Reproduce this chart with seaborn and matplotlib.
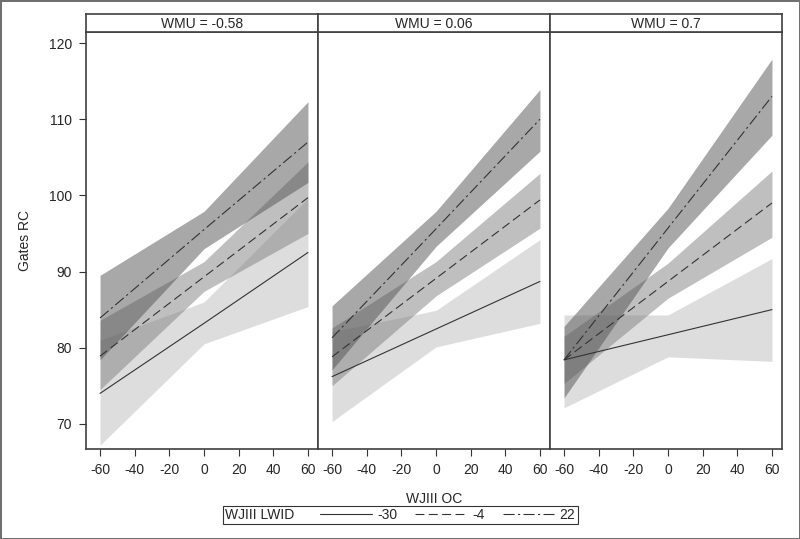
import pandas as pd
import matplotlib
matplotlib.use('Agg')
import matplotlib.pyplot as plt
import seaborn as sns
from matplotlib.lines import Line2D
from matplotlib.offsetbox import HPacker

oc = [-60, 0, 60]
wmu_labels = ['WMU = -0.58', 'WMU = 0.06', 'WMU = 0.7']
lwid_levels = ['-30', '-4', '22']

# predicted Gates RC per panel, one list per LWID level (-30, -4, 22)
fit_p1 = [[74.0, 83.2, 92.5], [78.9, 89.3, 99.7], [83.9, 95.5, 107.0]]
fit_p2 = [[76.2, 82.45, 88.7], [78.8, 89.1, 99.4], [81.3, 95.6, 110.0]]
fit_p3 = [[78.4, 81.7, 85.0], [78.4, 88.7, 99.0], [78.4, 95.7, 113.0]]

# confidence bands (lower / upper)
lo_p1 = [[67.2, 80.5, 85.4], [74.5, 87.4, 95.0], [78.4, 93.0, 101.7]]
hi_p1 = [[81.0, 86.0, 99.6], [83.6, 91.3, 104.4], [89.5, 97.9, 112.3]]
lo_p2 = [[70.3, 80.1, 83.2], [75.0, 86.8, 95.7], [77.1, 93.3, 105.8]]
hi_p2 = [[82.1, 84.9, 94.2], [82.6, 91.3, 102.9], [85.5, 97.9, 113.9]]
lo_p3 = [[72.1, 78.8, 78.2], [75.3, 86.5, 94.5], [73.4, 93.1, 107.9]]
hi_p3 = [[84.3, 84.3, 91.7], [81.5, 91.1, 103.2], [82.8, 98.3, 117.9]]

fits = [fit_p1, fit_p2, fit_p3]
los = [lo_p1, lo_p2, lo_p3]
his = [hi_p1, hi_p2, hi_p3]

# long table for seaborn
rows = []
for i, w in enumerate(wmu_labels):
    for j, lev in enumerate(lwid_levels):
        for k, x in enumerate(oc):
            rows.append({'WMU': w, 'WJIII LWID': lev, 'WJIII OC': x, 'Gates RC': fits[i][j][k]})
df = pd.DataFrame(rows)

sns.set_style('white')
plt.rcParams['font.family'] = ['Liberation Sans', 'DejaVu Sans']
plt.rcParams['axes.unicode_minus'] = False

line_color = '#333333'
frame_color = '#404040'
band_colors = ['#bdbdbd', '#808080', '#525252']
dashes = {'-30': '', '-4': (8, 4), '22': (10, 3, 2, 3)}

fig, axes = plt.subplots(1, 3, figsize=(8, 5.39), dpi=100, sharey=True,
                         linewidth=2, edgecolor='#707070')
fig.subplots_adjust(left=0.1075, right=0.9775, bottom=0.167, top=0.9406, wspace=0)

for i, ax in enumerate(axes):
    for j in range(3):
        ax.fill_between(oc, los[i][j], his[i][j], color=band_colors[j], alpha=0.5, lw=0)
    sub = df[df['WMU'] == wmu_labels[i]]
    sns.lineplot(data=sub, x='WJIII OC', y='Gates RC', style='WJIII LWID',
                 style_order=lwid_levels, dashes=dashes, color=line_color,
                 linewidth=0.8, estimator=None, sort=False, legend=False, ax=ax)

    ax.set_xlim(-68.1, 65.8)
    ax.set_ylim(66.7, 121.45)
    ax.set_xticks([-60, -40, -20, 0, 20, 40, 60])
    ax.set_yticks([70, 80, 90, 100, 110, 120])
    ax.tick_params(direction='out', length=5, width=0.8, color=line_color,
                   labelsize=10, pad=5, bottom=True, left=(i == 0))
    for s in ax.spines.values():
        s.set_visible(True)
        s.set_color(frame_color)
        s.set_linewidth(1.2)
    ax.set_xlabel('')
    ax.set_ylabel('')

    # strip title box
    pos = ax.get_position()
    sax = fig.add_axes([pos.x0, pos.y1, pos.width, 0.0334])
    sax.set_xticks([])
    sax.set_yticks([])
    for s in sax.spines.values():
        s.set_color(frame_color)
        s.set_linewidth(1.2)
    sax.text(0.5, 0.45, wmu_labels[i], ha='center', va='center', fontsize=10)

axes[0].set_ylabel('Gates RC', fontsize=10, labelpad=12)
axes[1].set_xlabel('WJIII OC', fontsize=10, labelpad=11)

# legend: title on the left, entries in a row
handles = [Line2D([], [], color=line_color, lw=0.8, linestyle='-'),
           Line2D([], [], color=line_color, lw=0.8, dashes=(8, 4)),
           Line2D([], [], color=line_color, lw=0.8, dashes=(10, 3, 2, 3))]
leg = fig.legend(handles, lwid_levels, title='WJIII LWID', ncol=3, loc='center',
                 bbox_to_anchor=(0.5, 0.044), frameon=True, fancybox=False,
                 edgecolor='black', handlelength=3.7, handletextpad=0.4,
                 columnspacing=1.3, borderpad=0.15, borderaxespad=0,
                 fontsize=10, title_fontsize=10)
leg.get_frame().set_linewidth(0.8)
leg._legend_box = HPacker(pad=leg._legend_box.pad, sep=19, align='center',
                          children=[leg._legend_title_box, leg._legend_handle_box])
leg._legend_box.set_figure(fig)
leg._legend_box.set_offset(leg._findoffset)

fig.savefig('out.png', dpi=100)
